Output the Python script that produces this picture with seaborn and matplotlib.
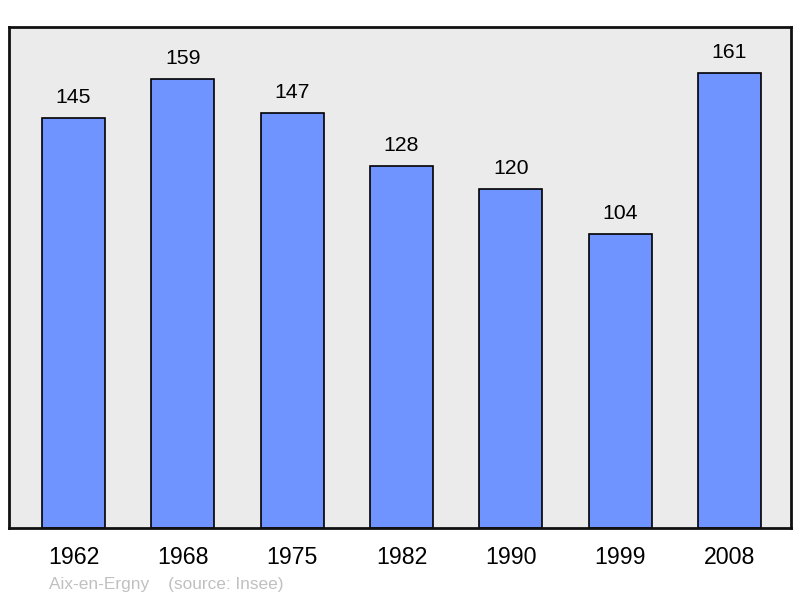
import matplotlib
matplotlib.use("Agg")
import matplotlib.pyplot as plt
import seaborn as sns
import pandas as pd

# Population data
years = ["1962", "1968", "1975", "1982", "1990", "1999", "2008"]
population = [145, 159, 147, 128, 120, 104, 161]

df = pd.DataFrame({"year": years, "population": population})

sns.set_style("white")
plt.rcParams["font.family"] = ["Liberation Sans", "DejaVu Sans"]

fig = plt.figure(figsize=(8, 5.98), dpi=100)
ax = fig.add_axes([0.01125, 0.1171, 0.9775, 0.8377])
ax.set_facecolor("#ebebeb")

sns.barplot(data=df, x="year", y="population", color="#7094ff", saturation=1,
            width=0.576, edgecolor="black", linewidth=1.2, ax=ax)

for i, v in enumerate(population):
    ax.annotate(str(v), (i, v), xytext=(0, 8), textcoords="offset points",
                ha="center", va="bottom", fontsize=15.3, color="black")

ax.set_xlim(-0.59, 6.5625)
ax.set_ylim(0, 177.3)
ax.set_yticks([])
ax.set_xlabel("")
ax.set_ylabel("")
ax.tick_params(axis="x", length=0, labelsize=16.7, pad=13, labelcolor="black")
for s in ax.spines.values():
    s.set_linewidth(2)
    s.set_color("#111111")

fig.text(49 / 800, 1 - 584 / 598, "Aix-en-Ergny    (source: Insee)",
         fontsize=12.4, color="#c0c0c0", va="center", ha="left")

fig.savefig("out.png", dpi=100)
